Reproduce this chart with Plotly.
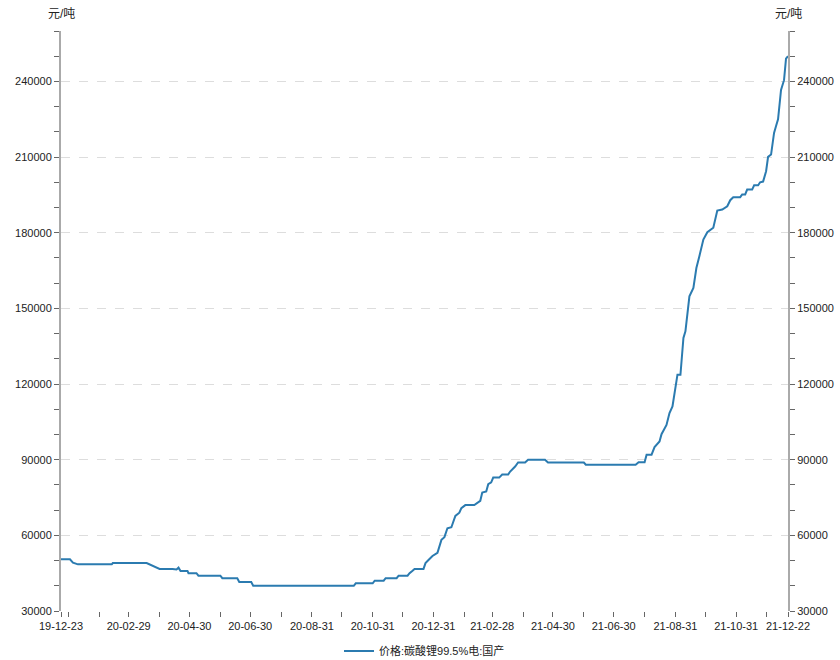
import plotly.graph_objects as go

# ---- data ----
dates = [
    "2019-12-23", "2020-01-01", "2020-01-04", "2020-01-09", "2020-02-12", "2020-02-13",
    "2020-03-18", "2020-03-21", "2020-03-26", "2020-03-31", "2020-04-13", "2020-04-17",
    "2020-04-19", "2020-04-21", "2020-04-28", "2020-04-29", "2020-05-07", "2020-05-09",
    "2020-05-31", "2020-06-02", "2020-06-17", "2020-06-19", "2020-07-01", "2020-07-03",
    "2020-10-12", "2020-10-14", "2020-10-31", "2020-11-02", "2020-11-11", "2020-11-13",
    "2020-11-24", "2020-11-26", "2020-12-05", "2020-12-07", "2020-12-10", "2020-12-12",
    "2020-12-21", "2020-12-23", "2020-12-26", "2020-12-30", "2021-01-04", "2021-01-08",
    "2021-01-11", "2021-01-14", "2021-01-18", "2021-01-22", "2021-01-26", "2021-01-28",
    "2021-02-01", "2021-02-10", "2021-02-16", "2021-02-18", "2021-02-22", "2021-02-24",
    "2021-02-27", "2021-03-01", "2021-03-07", "2021-03-10", "2021-03-16", "2021-03-18",
    "2021-03-23", "2021-03-26", "2021-04-02", "2021-04-05", "2021-04-22", "2021-04-25",
    "2021-05-31", "2021-06-02", "2021-07-22", "2021-07-25", "2021-07-31", "2021-08-02",
    "2021-08-07", "2021-08-10", "2021-08-15", "2021-08-17", "2021-08-22", "2021-08-25",
    "2021-08-28", "2021-09-02", "2021-09-05", "2021-09-08", "2021-09-10", "2021-09-14",
    "2021-09-18", "2021-09-21", "2021-09-24", "2021-09-28", "2021-10-02", "2021-10-08",
    "2021-10-12", "2021-10-17", "2021-10-22", "2021-10-25", "2021-10-28", "2021-11-04",
    "2021-11-06", "2021-11-09", "2021-11-11", "2021-11-16", "2021-11-18", "2021-11-22",
    "2021-11-24", "2021-11-27", "2021-11-30", "2021-12-02", "2021-12-05", "2021-12-06",
    "2021-12-08", "2021-12-10", "2021-12-12", "2021-12-15", "2021-12-18", "2021-12-20",
    "2021-12-22",
]
prices = [
    50500, 50500, 49200, 48500, 48500, 49000,
    49000, 48500, 47600, 46700, 46700, 46500,
    47200, 45900, 45900, 45000, 45000, 44000,
    44000, 43000, 43000, 41500, 41500, 40000,
    40000, 41000, 41000, 42000, 42000, 43000,
    43000, 44000, 44000, 45000, 46000, 46700,
    46700, 49000, 50200, 51800, 53100, 58200,
    59300, 62800, 63200, 67700, 69000, 70800,
    72000, 72000, 73700, 77000, 77400, 80300,
    81000, 82900, 82900, 84100, 84100, 85300,
    87300, 88900, 88900, 90000, 90000, 88900,
    88900, 88000, 88000, 89000, 89000, 92000,
    92000, 95000, 97200, 100100, 103800, 108500,
    111100, 123700, 123700, 138300, 140900, 154800,
    158100, 166000, 170700, 177300, 180200, 182000,
    188800, 189200, 190500, 192900, 194100, 194100,
    195200, 195200, 197100, 197100, 198800, 198800,
    200000, 200300, 204400, 210100, 211000, 214300,
    219600, 222300, 225000, 236600, 240500, 249000,
    250000,
]
series_name = "价格:碳酸锂99.5%电:国产"
unit = "元/吨"

x_tick_vals = [
    "2019-12-23", "2019-12-31", "2020-01-31", "2020-02-29", "2020-03-31", "2020-04-30",
    "2020-05-31", "2020-06-30", "2020-07-31", "2020-08-31", "2020-09-30", "2020-10-31",
    "2020-11-30", "2020-12-31", "2021-01-31", "2021-02-28", "2021-03-31", "2021-04-30",
    "2021-05-31", "2021-06-30", "2021-07-31", "2021-08-31", "2021-09-30", "2021-10-31",
    "2021-11-30", "2021-12-22",
]
x_tick_text = [
    "19-12-23", "", "", "20-02-29", "", "20-04-30",
    "", "20-06-30", "", "20-08-31", "", "20-10-31",
    "", "20-12-31", "", "21-02-28", "", "21-04-30",
    "", "21-06-30", "", "21-08-31", "", "21-10-31",
    "", "21-12-22",
]
y_range = [30000, 260000]

# ---- figure ----
FONT = "Liberation Sans, Arial, Noto Sans CJK SC, sans-serif"
LINE_COLOR = "#2b7bb0"
AXIS_COLOR = "#aaaaaa"
TEXT_COLOR = "#222222"

fig = go.Figure()
fig.add_trace(go.Scatter(
    x=dates, y=prices, mode="lines", name=series_name,
    line=dict(color=LINE_COLOR, width=2), yaxis="y",
))
fig.add_trace(go.Scatter(
    x=dates, y=prices, mode="lines", showlegend=False, hoverinfo="skip",
    line=dict(color=LINE_COLOR, width=0), opacity=0, yaxis="y2",
))

yaxis_common = dict(
    range=y_range, tick0=30000, dtick=30000, tickformat="d",
    ticks="outside", ticklen=5, tickcolor="#666", tickwidth=1,
    showline=True, linecolor=AXIS_COLOR, linewidth=2,
    tickfont=dict(size=11, color=TEXT_COLOR, family=FONT),
    minor=dict(dtick=10000, tick0=30000, ticks="outside", ticklen=5,
               tickcolor="#666", showgrid=False),
    zeroline=False, fixedrange=True, automargin=False,
)

fig.update_layout(
    width=840, height=660,
    margin=dict(l=61, r=52, t=31, b=49, autoexpand=False),
    paper_bgcolor="white", plot_bgcolor="white",
    font=dict(family=FONT, size=11, color=TEXT_COLOR),
    xaxis=dict(
        type="date", range=[dates[0], dates[-1]],
        tickmode="array", tickvals=x_tick_vals, ticktext=x_tick_text,
        ticks="outside", ticklen=5, tickcolor="#666",
        showgrid=False, showline=False, zeroline=False, automargin=False,
        fixedrange=True,
        tickfont=dict(size=11, color=TEXT_COLOR, family=FONT),
    ),
    yaxis=dict(
        side="left", showgrid=True, gridcolor="#dddddd", griddash="dash", gridwidth=1,
        **yaxis_common,
    ),
    yaxis2=dict(
        side="right", overlaying="y", showgrid=False,
        **yaxis_common,
    ),
    legend=dict(
        orientation="h", x=0.5, xanchor="center", y=-0.069, yanchor="middle",
        font=dict(size=11, color=TEXT_COLOR, family=FONT), itemwidth=30,
    ),
    showlegend=True,
    annotations=[
        dict(text=unit, xref="paper", yref="paper", x=0, y=1, xanchor="center",
             yanchor="bottom", yshift=8, showarrow=False,
             font=dict(size=12, color=TEXT_COLOR, family=FONT)),
        dict(text=unit, xref="paper", yref="paper", x=1, y=1, xanchor="center",
             yanchor="bottom", yshift=8, showarrow=False,
             font=dict(size=12, color=TEXT_COLOR, family=FONT)),
    ],
)

# remove the default 8px page margin so the 840x660 figure fills the window exactly
fig.write_html(
    "out.html",
    config={"displayModeBar": False},
    post_script="document.body.style.margin='0';document.body.style.overflow='hidden';",
)
